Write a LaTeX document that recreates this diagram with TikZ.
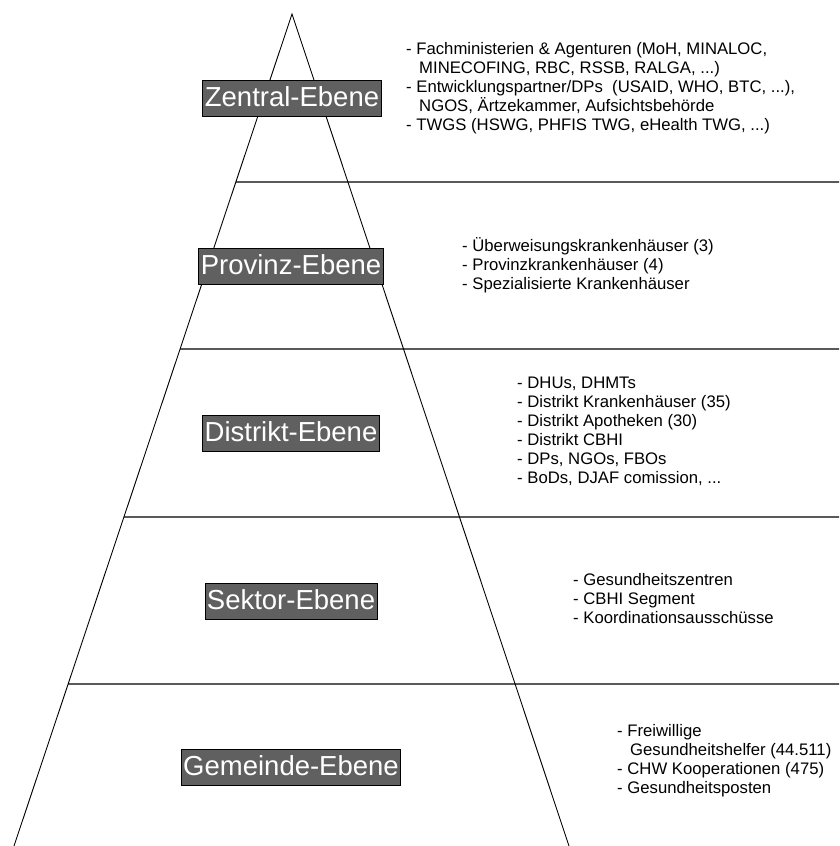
\documentclass[tikz,border=0pt]{standalone}
\usepackage{fontspec}
\setmainfont{Liberation Sans}
\usetikzlibrary{calc}
\definecolor{levelgray}{HTML}{606060}

\begin{document}
\begin{tikzpicture}[x=1pt, y=-1pt,
    level/.style={draw=black, line width=0.8pt, fill=levelgray, text=white, inner xsep=2pt, inner ysep=4pt, text height=22pt, text depth=6pt, font={\fontsize{27.5}{30}\selectfont}},
    items/.style={anchor=north west, inner sep=0pt, align=left, font={\fontsize{16.7}{19}\selectfont}},
    side/.style={line width=0.9pt},
    tier/.style={line width=1.3pt}]
  \useasboundingbox (0,0) rectangle (839,846);
  \coordinate (apex) at (292,14);
  \coordinate (bl) at (14,846);
  \coordinate (br) at (569,846);
  \draw[side] (bl) -- (apex) -- (br);
  \foreach \y in {182,349,517,684}
    \draw[tier] ($(apex)!{(\y-14)/832}!(bl)$) -- (839,\y);

  \node[level] (zentral) at (292,98) {Zentral-Ebene};
  \node[level] (provinz) at (291,266) {Provinz-Ebene};
  \node[level] (distrikt) at (291,433) {Distrikt-Ebene};
  \node[level] (sektor) at (291,601) {Sektor-Ebene};
  \node[level] (gemeinde) at (291,767) {Gemeinde-Ebene};

  \node[items] (zentralitems) at (406,41) {\strut- Fachministerien \& Agenturen (MoH, MINALOC,\\\hspace*{13pt}MINECOFING, RBC, RSSB, RALGA, ...)\\- Entwicklungspartner/DPs\ \ (USAID, WHO, BTC, ...),\\\hspace*{13pt}NGOS, Ärtzekammer, Aufsichtsbehörde\\- TWGS (HSWG, PHFIS TWG, eHealth TWG, ...)};
  \node[items] (provinzitems) at (462,237) {\strut- Überweisungskrankenhäuser (3)\\- Provinzkrankenhäuser (4)\\- Spezialisierte Krankenhäuser};
  \node[items] (distriktitems) at (517,375) {\strut- DHUs, DHMTs\\- Distrikt Krankenhäuser (35)\\- Distrikt Apotheken (30)\\- Distrikt CBHI\\- DPs, NGOs, FBOs\\- BoDs, DJAF comission, ...};
  \node[items] (sektoritems) at (573,572) {\strut- Gesundheitszentren\\- CBHI Segment\\- Koordinationsausschüsse};
  \node[items] (gemeindeitems) at (617,723) {\strut- Freiwillige\\\hspace*{13pt}Gesundheitshelfer (44.511)\\- CHW Kooperationen (475)\\- Gesundheitsposten};
\end{tikzpicture}
\end{document}
